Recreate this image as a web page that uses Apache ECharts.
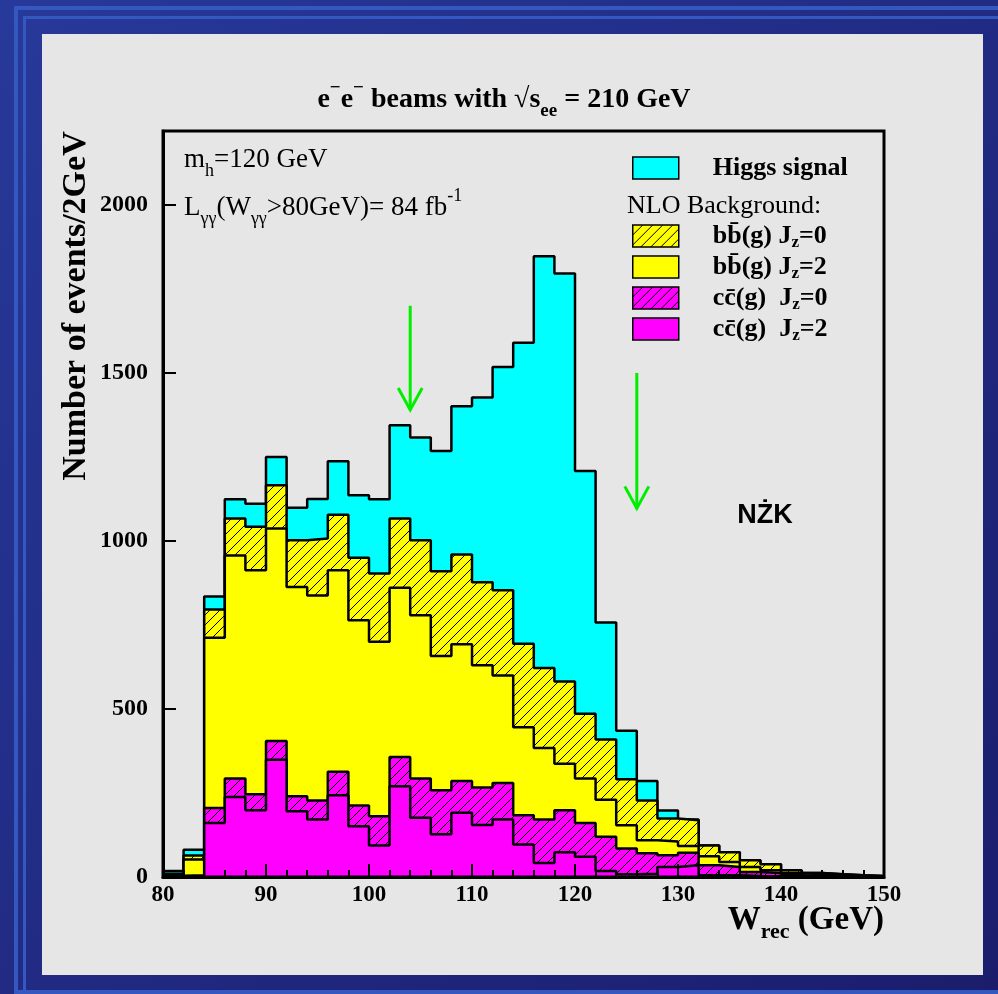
<!DOCTYPE html>
<html>
<head>
<meta charset="utf-8">
<title>e-e- beams, sqrt(s)=210 GeV</title>
<script src="https://cdn.jsdelivr.net/npm/echarts@6.0.0/dist/echarts.min.js"></script>
<style>
  html, body { margin: 0; padding: 0; }
  #chart { width: 998px; height: 994px; }
</style>
</head>
<body>
<div id="chart"></div>
<script>
// bin lower edges, 2 GeV bins from 80 to 150
const binLo = [80, 82, 84, 86, 88, 90, 92, 94, 96, 98, 100, 102, 104, 106, 108, 110, 112, 114,
  116, 118, 120, 122, 124, 126, 128, 130, 132, 134, 136, 138, 140, 142, 144, 146, 148];
const binHi = 150;

// events per bin, each layer on its own (stacked bottom -> top)
const ccJz2 = [2, 3, 161, 238, 199, 349, 196, 171, 243, 151, 94, 270, 176, 127, 191, 155, 171, 97,
  42, 74, 60, 18, 8, 10, 30, 35, 5, 5, 3, 2, 1, 1, 0, 0, 0];
const ccJz0 = [2, 2, 44, 55, 47, 56, 44, 57, 70, 62, 87, 87, 117, 131, 95, 111, 109, 87,
  129, 125, 101, 102, 77, 61, 35, 37, 30, 25, 12, 10, 4, 3, 2, 1, 1];
const bbJz2 = [4, 47, 507, 664, 667, 632, 623, 610, 600, 551, 519, 504, 486, 400, 407, 364, 320, 262,
  213, 138, 132, 110, 69, 38, 41, 20, 27, 15, 15, 8, 7, 4, 3, 2, 1];
const bbJz0 = [2, 12, 84, 110, 129, 129, 139, 169, 165, 186, 203, 206, 223, 252, 267, 247, 253, 248,
  238, 245, 193, 179, 137, 119, 68, 77, 32, 29, 20, 18, 8, 4, 3, 2, 1];
const higgs = [8, 17, 39, 57, 69, 84, 97, 118, 159, 186, 221, 277, 306, 358, 441, 550, 665, 896,
  1225, 1214, 722, 348, 144, 58, 24, 2, 0, 0, 0, 0, 0, 0, 0, 0, 0];

// green arrows (W position, arrow top, arrow tip in events)
const arrowX = [104, 126];
const arrowTop = [1700, 1500];
const arrowTip = [1390, 1097];

const xTicks = { min: 80, max: 150, interval: 10 };
const yTicks = { min: 0, max: 2220, interval: 500 };

const serif = 'Liberation Serif';
const chart = echarts.init(document.getElementById('chart'));

// diagonal hatching
function hatch(bg) {
  const c = document.createElement('canvas');
  c.width = 10;
  c.height = 10;
  const ctx = c.getContext('2d');
  ctx.fillStyle = bg;
  ctx.fillRect(0, 0, 10, 10);
  ctx.strokeStyle = '#000';
  ctx.lineWidth = 1;
  ctx.beginPath();
  ctx.moveTo(-1, 11); ctx.lineTo(11, -1);
  ctx.moveTo(-1, 1); ctx.lineTo(1, -1);
  ctx.moveTo(9, 11); ctx.lineTo(11, 9);
  ctx.stroke();
  return { image: c, repeat: 'repeat' };
}

const xs = binLo.concat([binHi]);
const pts = (vals) => xs.map((x, i) => [x, vals[Math.min(i, vals.length - 1)]]);

const layers = [
  { name: 'cc2', data: ccJz2, color: '#ff00ff' },
  { name: 'cc0', data: ccJz0, color: hatch('#ff00ff') },
  { name: 'bb2', data: bbJz2, color: '#ffff00' },
  { name: 'bb0', data: bbJz0, color: hatch('#ffff00') },
  { name: 'Higgs signal', data: higgs, color: '#00ffff' },
];

// running sums, so every layer is drawn from 0 up to its stacked top
let run = binLo.map(() => 0);
layers.forEach((l) => {
  run = run.map((v, i) => v + l.data[i]);
  l.cum = run;
});

const labels = {
  'Higgs signal': '{b|Higgs signal}',
  bb0: '{b|bb\u0304(g) J}{s|z}{b|=0}',
  bb2: '{b|bb\u0304(g) J}{s|z}{b|=2}',
  cc0: '{b|cc\u0304(g)  J}{s|z}{b|=0}',
  cc2: '{b|cc\u0304(g)  J}{s|z}{b|=2}',
};

const legendText = {
  padding: [0, 0, 0, 29],
  rich: {
    b: { fontFamily: serif, fontWeight: 'bold', fontSize: 26, lineHeight: 30, color: '#000' },
    s: { fontFamily: serif, fontWeight: 'bold', fontSize: 17, lineHeight: 18, verticalAlign: 'bottom', color: '#000' },
  },
};
const legendBase = {
  orient: 'vertical',
  left: 632,
  padding: 0,
  itemWidth: 46,
  itemHeight: 22,
  itemGap: 3,
  icon: 'rect',
  itemStyle: { borderColor: '#000', borderWidth: 1.5 },
  formatter: (n) => labels[n],
  textStyle: legendText,
  selectedMode: false,
};

const series = layers.map((l, k) => ({
  name: l.name,
  type: 'line',
  step: 'end',
  symbol: 'none',
  z: 8 - k,
  data: pts(l.cum),
  itemStyle: { color: l.color },
  lineStyle: { color: '#000', width: 2.5 },
  areaStyle: { color: l.color, opacity: 1 },
  emphasis: { disabled: true },
  animation: false,
}));

series.push({
  type: 'custom',
  z: 20,
  silent: true,
  encode: { x: 0, y: [1, 2] },
  data: arrowX.map((x, i) => [x, arrowTop[i], arrowTip[i]]),
  renderItem: (params, api) => {
    const top = api.coord([api.value(0), api.value(1)]);
    const tip = api.coord([api.value(0), api.value(2)]);
    const st = { stroke: '#00ee00', lineWidth: 3, fill: null };
    return {
      type: 'group',
      children: [
        { type: 'line', shape: { x1: top[0], y1: top[1], x2: tip[0], y2: tip[1] }, style: st },
        { type: 'polyline', shape: { points: [[tip[0] - 12, tip[1] - 22], tip, [tip[0] + 12, tip[1] - 22]] }, style: st },
      ],
    };
  },
  animation: false,
});

const txt = (x, y, text, rich, extra) => Object.assign({
  type: 'text', x, y, z: 100,
  style: { text, rich, align: 'left', verticalAlign: 'middle', fill: '#000' },
}, extra || {});

const richSerif = (size, weight) => ({
  t: { fontFamily: serif, fontWeight: weight, fontSize: size, lineHeight: size + 14, color: '#000' },
  sub: { fontFamily: serif, fontWeight: weight, fontSize: Math.round(size * 0.68), lineHeight: 20, verticalAlign: 'bottom', color: '#000' },
  sup: { fontFamily: serif, fontWeight: weight, fontSize: Math.round(size * 0.68), lineHeight: 20, verticalAlign: 'top', color: '#000' },
});

const title = txt(504, 100, '{t|e}{sup|\u2212}{t|e}{sup|\u2212}{t| beams with \u221As}{sub|ee}{t| = 210 GeV}', richSerif(28, 'bold'));
title.style.align = 'center';
const xName = txt(884, 920, '{t|W}{sub|rec}{t| (GeV)}', richSerif(33, 'bold'));
xName.style.align = 'right';

chart.setOption({
  backgroundColor: {
    type: 'linear', x: 0, y: 0, x2: 1, y2: 1,
    colorStops: [{ offset: 0, color: '#27399a' }, { offset: 1, color: '#1b1d6c' }],
  },
  animation: false,
  graphic: [
    { type: 'rect', z: -10, shape: { x: 16, y: 8, width: 1000, height: 984 }, style: { fill: null, stroke: '#3558c0', lineWidth: 4 } },
    { type: 'rect', z: -10, shape: { x: 24.5, y: 17.5, width: 1000, height: 1000 }, style: { fill: null, stroke: '#3558c0', lineWidth: 3 } },
    { type: 'rect', z: -9, shape: { x: 42, y: 34, width: 941, height: 941 }, style: { fill: '#e6e6e6' } },
    title,
    txt(184, 160, '{t|m}{sub|h}{t|=120 GeV}', richSerif(27, 'normal')),
    txt(184, 208, '{t|L}{sub|\u03B3\u03B3}{t|(W}{sub|\u03B3\u03B3}{t|>80GeV)= 84 fb}{sup|-1}', richSerif(27, 'normal')),
    txt(627, 206, '{t|NLO Background:}', richSerif(26, 'normal')),
    xName,
    {
      type: 'text', x: 76, y: 306, z: 100, rotation: Math.PI / 2,
      style: { text: 'Number of events/2GeV', align: 'center', verticalAlign: 'middle', fontFamily: serif, fontWeight: 'bold', fontSize: 34, fill: '#000' },
    },
    {
      type: 'text', x: 765, y: 516, z: 100,
      style: { text: 'N\u017BK', align: 'center', verticalAlign: 'middle', fontFamily: 'Liberation Sans', fontWeight: 'bold', fontSize: 27, fill: '#000' },
    },
  ],
  legend: [
    Object.assign({}, legendBase, { top: 155, data: ['Higgs signal'] }),
    Object.assign({}, legendBase, { top: 223, data: ['bb0', 'bb2', 'cc0', 'cc2'] }),
  ],
  grid: {
    left: 163, right: 114, top: 131, bottom: 117,
    show: true, borderColor: '#000', borderWidth: 3, backgroundColor: 'transparent', z: 10,
  },
  xAxis: {
    type: 'value',
    min: xTicks.min, max: xTicks.max, interval: xTicks.interval,
    z: 10,
    splitLine: { show: false },
    axisLine: { lineStyle: { color: '#000', width: 3 } },
    axisTick: { inside: true, length: 13, lineStyle: { color: '#000', width: 2 } },
    minorTick: { show: true, splitNumber: 5, length: 7, lineStyle: { color: '#000', width: 2 } },
    axisLabel: { color: '#000', fontFamily: serif, fontWeight: 'bold', fontSize: 23, margin: 7 },
  },
  yAxis: {
    type: 'value',
    min: yTicks.min, max: yTicks.max, interval: yTicks.interval,
    z: 10,
    splitLine: { show: false },
    axisLine: { lineStyle: { color: '#000', width: 3 } },
    axisTick: { inside: true, length: 13, lineStyle: { color: '#000', width: 2 } },
    axisLabel: {
      color: '#000', fontFamily: serif, fontWeight: 'bold', fontSize: 24, margin: 15,
      formatter: (v) => (v % 500 === 0 ? String(v) : ''),
    },
  },
  series,
});
</script>
</body>
</html>
